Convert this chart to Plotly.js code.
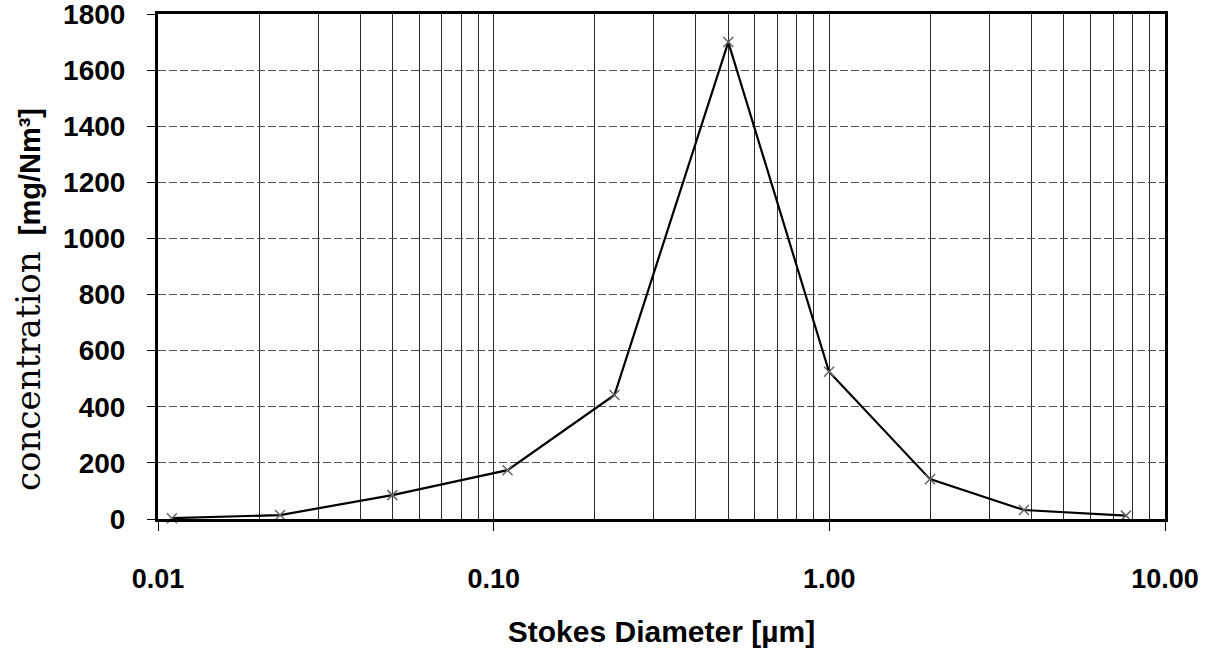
<!DOCTYPE html>
<html>
<head>
<meta charset="utf-8">
<script src="https://cdn.plot.ly/plotly-3.0.1.min.js"></script>
<style>html,body{margin:0;padding:0;background:#fff;}#chart{width:1214px;height:653px;}</style>
</head>
<body>
<div id="chart"></div>
<script>
// Stokes diameter [µm]
const diameter = [0.011, 0.0231, 0.0499, 0.110, 0.229, 0.500, 0.998, 1.995, 3.80, 7.65];
// concentration [mg/Nm³]
const concentration = [3, 14, 85, 174, 442, 1700, 525, 142, 32, 12];
const xTickVals = [0.01, 0.1, 1, 10];
const xTickText = ['0.01', '0.10', '1.00', '10.00'];
const xMinorVals = [0.02,0.03,0.04,0.05,0.06,0.07,0.08,0.09,0.2,0.3,0.4,0.5,0.6,0.7,0.8,0.9,2,3,4,5,6,7,8,9];
const yTickVals = [0, 200, 400, 600, 800, 1000, 1200, 1400, 1600, 1800];

const trace = {
  x: diameter, y: concentration, type: 'scatter', mode: 'lines+markers',
  line: {color: '#000', width: 2.2},
  marker: {symbol: 'x-thin', size: 10, line: {color: '#666', width: 1.5}},
  cliponaxis: false, hoverinfo: 'skip'
};

const layout = {
  width: 1214, height: 653,
  margin: {l: 158, r: 49, t: 14, b: 134},
  paper_bgcolor: '#fff', plot_bgcolor: '#fff',
  showlegend: false,
  font: {family: 'Liberation Sans, Arial, sans-serif', color: '#000'},
  xaxis: {
    type: 'log', range: [-2, 1],
    tickmode: 'array', tickvals: xTickVals, ticktext: xTickText,
    ticks: 'outside', ticklen: 9, tickwidth: 1, tickcolor: '#000',
    ticklabelstandoff: 25, ticklabeloverflow: 'allow',
    tickfont: {family: 'Liberation Sans, Arial', size: 27, weight: 'bold'},
    showgrid: true, gridcolor: '#2a2a2a', gridwidth: 1,
    minor: {tickmode: 'array', tickvals: xMinorVals, showgrid: true, gridcolor: '#2a2a2a', gridwidth: 1, ticks: ''},
    showline: true, linecolor: '#000', linewidth: 3, mirror: true,
    zeroline: false,
    title: {text: '<b>Stokes Diameter [µm]</b>', font: {family: 'Liberation Sans, Arial', size: 30}, standoff: 28}
  },
  yaxis: {
    range: [0, 1800],
    tickmode: 'array', tickvals: yTickVals,
    ticks: 'outside', ticklen: 8, tickwidth: 1, tickcolor: '#000',
    ticklabelstandoff: 16, ticklabeloverflow: 'allow',
    tickfont: {family: 'Liberation Sans, Arial', size: 28, weight: 'bold'},
    showgrid: true, gridcolor: '#555', gridwidth: 1, griddash: '8px,3px',
    showline: true, linecolor: '#000', linewidth: 3, mirror: true,
    zeroline: false
  },
  annotations: [{
    xref: 'paper', yref: 'paper', x: -0.129, y: 0.434,
    xanchor: 'center', yanchor: 'middle', textangle: -90, showarrow: false,
    text: '<span style="font-family:DejaVu Serif;font-size:34px">concentration</span>\u00A0\u00A0<b>[mg/Nm³]</b>',
    font: {family: 'Liberation Sans, Arial', size: 29, color: '#000'}
  }]
};

Plotly.newPlot('chart', [trace], layout, {staticPlot: true, displayModeBar: false});
</script>
</body>
</html>
